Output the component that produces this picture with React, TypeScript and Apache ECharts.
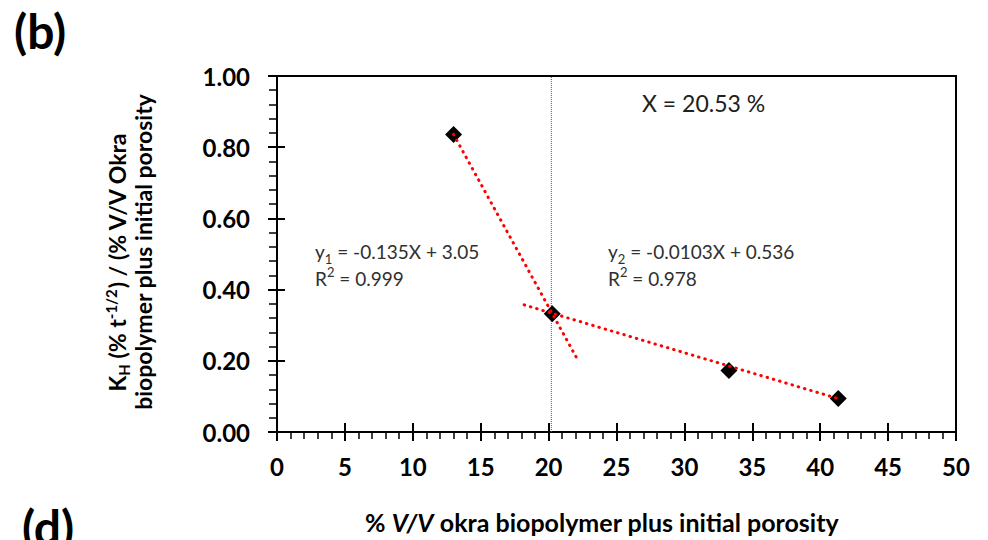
import React, { useEffect, useRef } from "react";
import * as echarts from "echarts";

// Data
const xValues = [13.0, 20.27, 33.28, 41.33];
const yValues = [0.836, 0.332, 0.173, 0.094];
const trend1X = [13.0, 22.2];
const trend1Y = [0.836, 0.199];
const trend2X = [18.2, 41.3];
const trend2Y = [0.357, 0.094];
const breakX = [20.2, 20.2];
const breakY = [0, 1];
const xRange = [0, 50];
const yRange = [0, 1];

const pairs = (xs: number[], ys: number[]) => xs.map((x, i) => [x, ys[i]]);

const FONT = "Lato";
const ANN = "#303030";

export default function App() {
  const ref = useRef<HTMLDivElement>(null);
  useEffect(() => {
    if (!ref.current) return;
    const chart = echarts.init(ref.current, null, { renderer: "svg" });
    const axisCommon = {
      axisLine: { show: true, lineStyle: { color: "#000", width: 2 } },
      splitLine: { show: false },
    };
    const dotted = { color: "#ff0000", width: 3, type: [0.5, 6] as any, cap: "round" as any };
    const annRich = {
      n: { fontSize: 19, fontFamily: FONT, fill: ANN, lineHeight: 27 },
      s: { fontSize: 13, fontFamily: FONT, fill: ANN, verticalAlign: "bottom", lineHeight: 14, padding: [6, 0, 0, 0] },
      p: { fontSize: 13, fontFamily: FONT, fill: ANN, verticalAlign: "top", lineHeight: 14 },
    };
    chart.setOption({
      animation: false,
      backgroundColor: "#fff",
      grid: {
        left: 277,
        right: 32,
        top: 76,
        bottom: 108,
        show: true,
        borderColor: "#000",
        borderWidth: 2,
        containLabel: false,
        outerBoundsMode: "none",
      },
      xAxis: [
        {
          type: "value",
          min: xRange[0],
          max: xRange[1],
          interval: 5,
          ...axisCommon,
          axisTick: { show: true, length: 9, lineStyle: { color: "#000", width: 2 } },
          minorTick: { show: true, splitNumber: 5, length: 7, lineStyle: { color: "#000", width: 1.5 } },
          axisLabel: { fontSize: 24, fontWeight: "bold", fontFamily: FONT, color: "#000", margin: 22 },
        },
        {
          type: "value",
          min: xRange[0],
          max: xRange[1],
          interval: 5,
          position: "bottom",
          axisLine: { show: false },
          splitLine: { show: false },
          axisTick: { show: true, inside: true, length: 9, lineStyle: { color: "#000", width: 2 } },
          axisLabel: { show: false },
        },
      ],
      yAxis: [
        {
          type: "value",
          min: yRange[0],
          max: yRange[1],
          interval: 0.2,
          ...axisCommon,
          axisTick: { show: true, length: 9, lineStyle: { color: "#000", width: 2 } },
          minorTick: { show: true, splitNumber: 5, length: 8, lineStyle: { color: "#000", width: 1.5 } },
          axisLabel: {
            fontSize: 24,
            fontWeight: "bold",
            fontFamily: FONT,
            color: "#000",
            margin: 27,
            formatter: (v: number) => v.toFixed(2),
          },
        },
        {
          type: "value",
          min: yRange[0],
          max: yRange[1],
          interval: 0.2,
          position: "left",
          axisLine: { show: false },
          splitLine: { show: false },
          axisTick: { show: true, inside: true, length: 8, lineStyle: { color: "#000", width: 2 } },
          axisLabel: { show: false },
        },
      ],
      series: [
        {
          type: "line",
          data: pairs(breakX, breakY),
          showSymbol: false,
          lineStyle: { color: "#555", width: 1, type: [1, 1] },
          z: 1,
        },
        {
          type: "scatter",
          data: pairs(xValues, yValues),
          symbol: "diamond",
          symbolSize: 17,
          itemStyle: { color: "#000", opacity: 1 },
          z: 2,
        },
        {
          type: "line",
          data: pairs(trend1X, trend1Y),
          showSymbol: false,
          lineStyle: dotted,
          z: 3,
        },
        {
          type: "line",
          data: pairs(trend2X, trend2Y),
          showSymbol: false,
          lineStyle: dotted,
          z: 3,
        },
      ],
      graphic: [
        {
          type: "text",
          x: 14,
          y: 6,
          style: { text: "(b)", fontSize: 48, fontWeight: "bold", fontFamily: FONT, fill: "#000", verticalAlign: "top" },
        },
        {
          type: "text",
          x: 22,
          y: 502,
          style: { text: "(d)", fontSize: 48, fontWeight: "bold", fontFamily: FONT, fill: "#000", verticalAlign: "top" },
        },
        {
          type: "text",
          x: 117,
          y: 262,
          rotation: Math.PI / 2,
          style: {
            text: "{a|K}{sub|H}{a| (% t}{sup|-1/2}{a|) / (% V/V Okra}",
            align: "center",
            verticalAlign: "middle",
            fill: "#000",
            rich: {
              a: { fontSize: 23, fontWeight: "bold", fontFamily: FONT, fill: "#000", lineHeight: 28 },
              sub: { fontSize: 15, fontWeight: "bold", fontFamily: FONT, fill: "#000", verticalAlign: "bottom", lineHeight: 16, padding: [6, 0, 0, 0] },
              sup: { fontSize: 15, fontWeight: "bold", fontFamily: FONT, fill: "#000", verticalAlign: "top", lineHeight: 16 },
            },
          },
        },
        {
          type: "text",
          x: 143,
          y: 252,
          rotation: Math.PI / 2,
          style: {
            text: "biopolymer plus initial porosity",
            align: "center",
            verticalAlign: "middle",
            fontSize: 23,
            fontWeight: "bold",
            fontFamily: FONT,
            fill: "#000",
          },
        },
        {
          type: "text",
          x: 602,
          y: 522,
          style: {
            text: "{b|% }{bi|V/V}{b| okra biopolymer plus initial porosity}",
            align: "center",
            verticalAlign: "middle",
            rich: {
              b: { fontSize: 25, fontWeight: "bold", fontFamily: FONT, fill: "#000" },
              bi: { fontSize: 25, fontWeight: "bold", fontStyle: "italic", fontFamily: FONT, fill: "#000" },
            },
          },
        },
        {
          type: "text",
          x: 315,
          y: 265,
          style: {
            text: "{n|y}{s|1}{n| = -0.135X + 3.05}\n{n|R}{p|2}{n| = 0.999}",
            align: "left",
            verticalAlign: "middle",
            rich: annRich,
          },
        },
        {
          type: "text",
          x: 608,
          y: 265,
          style: {
            text: "{n|y}{s|2}{n| = -0.0103X + 0.536}\n{n|R}{p|2}{n| = 0.978}",
            align: "left",
            verticalAlign: "middle",
            rich: annRich,
          },
        },
        {
          type: "text",
          x: 642,
          y: 103,
          style: {
            text: "X = 20.53 %",
            align: "left",
            verticalAlign: "middle",
            fontSize: 23,
            fontFamily: FONT,
            fill: "#202020",
          },
        },
      ],
    });
    return () => chart.dispose();
  }, []);
  return (
    <div
      ref={ref}
      style={{ position: "fixed", left: 0, top: 0, width: 988, height: 540, background: "#fff" }}
    />
  );
}
